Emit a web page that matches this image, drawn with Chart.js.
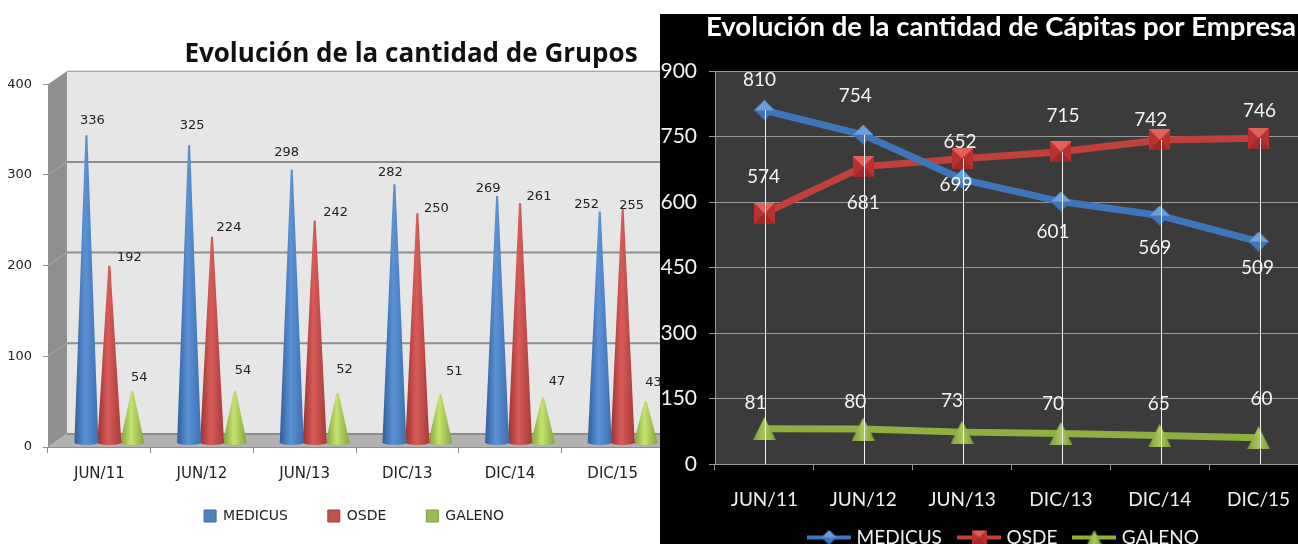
<!DOCTYPE html>
<html>
<head>
<meta charset="utf-8">
<script src="https://cdn.jsdelivr.net/npm/chart.js@4/dist/chart.umd.min.js"></script>
<style>
  html, body { margin: 0; width: 1298px; height: 544px; overflow: hidden; background: #fff; }
  #gruposBox { position: absolute; left: 0; top: 0; width: 712px; height: 544px; }
  #capitasBox { position: absolute; left: 660px; top: 14px; width: 686px; height: 530px; background: #000; }
</style>
</head>
<body>
<div id="gruposBox"><canvas id="gruposChart"></canvas></div>
<div id="capitasBox"><canvas id="capitasChart"></canvas></div>
<script>
const categories = ["JUN/11", "JUN/12", "JUN/13", "DIC/13", "DIC/14", "DIC/15"];

// left chart: grupos
const gruposMedicus = [336, 325, 298, 282, 269, 252];
const gruposOsde = [192, 224, 242, 250, 261, 255];
const gruposGaleno = [54, 54, 52, 51, 47, 43];
const gruposTicks = [0, 100, 200, 300, 400];

// right chart: capitas
const capitasMedicus = [810, 754, 652, 601, 569, 509];
const capitasOsde = [574, 681, 699, 715, 742, 746];
const capitasGaleno = [81, 80, 73, 70, 65, 60];
const capitasTicks = [0, 150, 300, 450, 600, 750, 900];

// hand placed data labels, [dx, dy] from the top of each mark
const gruposNudges = [
  [[6, -15], [3, -20], [-5, -17], [-4, -12], [-9, -7], [-13, -7]],
  [[20, -8], [17, -9], [21, -8], [19, -5], [19, -7], [9, -3]],
  [[7, -13], [8, -20], [7, -23], [14, -22], [14, -16], [8, -18]],
];
const capitasNudges = [
  [[-5, -30], [-8, -39], [-2, -37], [-8, 30], [-5, 32], [-1, 26]],
  [[-1, -36], [0, 36], [-6, 26], [2, -36], [-9, -20], [1, -27]],
  [[-9, -26], [-8, -27], [-10, -31], [-8, -30], [-1, -32], [3, -39]],
];

const coneColors = [
  ["#2f5f9a", "#5c92d6", "#3c6fae"],
  ["#9c3230", "#d85c58", "#a83a38"],
  ["#7f9e3a", "#c4e36e", "#86a63e"],
];

// the 3d box behind the cones
const depthX = 19;
const depthY = 13;

const boxPlugin = {
  id: "box3d",
  beforeDatasetsDraw(chart) {
    const ctx = chart.ctx;
    const a = chart.chartArea;
    const y = chart.scales.y;
    ctx.save();
    ctx.fillStyle = "#e6e6e6";
    ctx.fillRect(a.left + depthX, a.top - depthY, a.right - a.left, a.bottom - a.top);

    ctx.fillStyle = "#8f8f8f";
    ctx.beginPath();
    ctx.moveTo(a.left, a.top);
    ctx.lineTo(a.left + depthX, a.top - depthY);
    ctx.lineTo(a.left + depthX, a.bottom - depthY);
    ctx.lineTo(a.left, a.bottom);
    ctx.fill();

    ctx.fillStyle = "#b2b2b2";
    ctx.beginPath();
    ctx.moveTo(a.left, a.bottom);
    ctx.lineTo(a.left + depthX, a.bottom - depthY);
    ctx.lineTo(a.right + depthX, a.bottom - depthY);
    ctx.lineTo(a.right, a.bottom);
    ctx.fill();

    gruposTicks.forEach(function (t) {
      const py = y.getPixelForValue(t) - depthY;
      ctx.strokeStyle = "#8e8e8e";
      ctx.lineWidth = t === 400 ? 1 : 2;
      ctx.beginPath();
      ctx.moveTo(a.left + depthX, py);
      ctx.lineTo(a.right + depthX, py);
      ctx.stroke();
      if (t > 0 && t < 400) {
        ctx.strokeStyle = "#a8a8a8";
        ctx.lineWidth = 1;
        ctx.beginPath();
        ctx.moveTo(a.left, py + depthY);
        ctx.lineTo(a.left + depthX, py);
        ctx.stroke();
      }
    });
    ctx.restore();
  },
  // bars become cones, same position and height
  beforeDatasetDraw(chart, args) {
    const ctx = chart.ctx;
    const colors = coneColors[args.index];
    args.meta.data.forEach(function (bar) {
      const cx = bar.x + 10;
      const tip = bar.y - 7;
      const base = bar.base - 4;
      const half = 12;
      const grad = ctx.createLinearGradient(cx - half, 0, cx + half, 0);
      grad.addColorStop(0, colors[0]);
      grad.addColorStop(0.45, colors[1]);
      grad.addColorStop(1, colors[2]);
      ctx.save();
      ctx.fillStyle = grad;
      ctx.beginPath();
      ctx.moveTo(cx - 1, tip);
      ctx.lineTo(cx + 1, tip);
      ctx.lineTo(cx + half, base);
      ctx.ellipse(cx, base, half, 2.5, 0, 0, Math.PI);
      ctx.closePath();
      ctx.fill();
      ctx.restore();
    });
    return false;
  },
  afterDatasetsDraw(chart) {
    const ctx = chart.ctx;
    ctx.save();
    ctx.font = "13px 'DejaVu Sans'";
    ctx.fillStyle = "#222";
    ctx.textAlign = "center";
    ctx.textBaseline = "middle";
    chart.data.datasets.forEach(function (ds, i) {
      chart.getDatasetMeta(i).data.forEach(function (bar, j) {
        const n = gruposNudges[i][j];
        ctx.fillText(ds.data[j], bar.x + 10 + n[0], bar.y - 7 + n[1]);
      });
    });
    ctx.restore();
  },
  afterLayout(chart) {
    // title is centred over the visible wall, not over the canvas
    chart.titleBlock.left = 0;
    chart.titleBlock.right = 822;
    // legend sits where the reference has it, the layout only reserves 1px
    const lg = chart.legend;
    lg.left = 0;
    lg.right = chart.width - 4;
    lg.top = 469;
    lg.bottom = chart.height;
  },
};

new Chart(document.getElementById("gruposChart"), {
  type: "bar",
  data: {
    labels: categories,
    datasets: [
      { label: "MEDICUS", data: gruposMedicus, backgroundColor: "#4f81bd", borderColor: "#3a6aa3", borderWidth: 1 },
      { label: "OSDE", data: gruposOsde, backgroundColor: "#c0504d", borderColor: "#a33f3c", borderWidth: 1 },
      { label: "GALENO", data: gruposGaleno, backgroundColor: "#9bbb59", borderColor: "#7f9e3a", borderWidth: 1 },
    ],
  },
  options: {
    responsive: true,
    maintainAspectRatio: false,
    animation: false,
    categoryPercentage: 0.67,
    barPercentage: 1,
    layout: { padding: { top: 0, right: 48, bottom: 61, left: 0 } },
    plugins: {
      tooltip: { enabled: false },
      title: {
        display: true,
        text: "Evolución de la cantidad de Grupos",
        color: "#111",
        font: { family: "'Open Sans'", size: 26, weight: "bold" },
        padding: { top: 39, bottom: 14 },
      },
      legend: {
        position: "bottom",
        maxHeight: 1,
        labels: {
          color: "#222",
          font: { family: "'DejaVu Sans'", size: 14 },
          boxWidth: 12,
          boxHeight: 12,
          padding: 40,
        },
      },
    },
    scales: {
      x: {
        afterFit(scale) { scale.height = 35; },
        grid: { drawOnChartArea: false, tickLength: 6, tickColor: "#8c8c8c" },
        border: { color: "#8c8c8c" },
        ticks: { color: "#222", padding: 12, maxRotation: 0, font: { family: "'DejaVu Sans'", size: 15 } },
      },
      y: {
        min: 0,
        max: 400,
        afterFit(scale) { scale.width = 48; },
        afterBuildTicks(scale) { scale.ticks = gruposTicks.map((v) => ({ value: v })); },
        grid: { drawOnChartArea: false, tickLength: 5, tickColor: "#8c8c8c" },
        border: { color: "#8c8c8c" },
        ticks: { color: "#222", padding: 11, font: { family: "'DejaVu Sans'", size: 13 } },
      },
    },
  },
  plugins: [boxPlugin],
});

// marker images for the line chart, also used inside the legend
function makeMarker(kind, size) {
  const c = document.createElement("canvas");
  c.width = size;
  c.height = size;
  const g = c.getContext("2d");
  const m = size / 2;
  if (kind === "diamond") {
    g.fillStyle = "#3f76bb";
    g.beginPath();
    g.moveTo(m, 0);
    g.lineTo(size, m);
    g.lineTo(m, size);
    g.lineTo(0, m);
    g.fill();
    g.fillStyle = "#6ba0e0";
    g.beginPath();
    g.moveTo(m, 0);
    g.lineTo(size, m);
    g.lineTo(0, m);
    g.fill();
  } else if (kind === "square") {
    g.fillStyle = "#b8312e";
    g.fillRect(0, 0, size, size);
    g.fillStyle = "#e4605a";
    g.beginPath();
    g.moveTo(0, 0);
    g.lineTo(size, 0);
    g.lineTo(m, m);
    g.fill();
    g.fillStyle = "#a32825";
    g.beginPath();
    g.moveTo(0, size);
    g.lineTo(size, size);
    g.lineTo(m, m);
    g.fill();
  } else {
    const grad = g.createLinearGradient(0, 0, size, 0);
    grad.addColorStop(0, "#7d9c3a");
    grad.addColorStop(0.5, "#a9c95c");
    grad.addColorStop(1, "#7d9c3a");
    g.fillStyle = grad;
    g.beginPath();
    g.moveTo(m, 0);
    g.lineTo(size, size);
    g.lineTo(0, size);
    g.fill();
  }
  return c;
}

function legendImage(kind, color) {
  const c = document.createElement("canvas");
  c.width = 44;
  c.height = 20;
  const g = c.getContext("2d");
  g.strokeStyle = color;
  g.lineWidth = 4;
  g.beginPath();
  g.moveTo(0, 10);
  g.lineTo(44, 10);
  g.stroke();
  g.drawImage(makeMarker(kind, 15), 14.5, 2.5);
  return c;
}

const seriesKinds = ["diamond", "square", "triangle"];
const seriesColors = ["#3f76bb", "#c0403c", "#8fb040"];

const linePlugin = {
  id: "lineExtras",
  afterDatasetsDraw(chart) {
    // white drop lines from the highest point of each category
    const ctx = chart.ctx;
    const bottom = chart.chartArea.bottom;
    ctx.save();
    ctx.strokeStyle = "#f2f2f2";
    ctx.lineWidth = 1;
    categories.forEach(function (cat, j) {
      const pts = chart.data.datasets.map((d, i) => chart.getDatasetMeta(i).data[j]);
      const top = Math.min.apply(null, pts.map((p) => p.y));
      const x = Math.round(pts[0].x) + 1.5;
      ctx.beginPath();
      ctx.moveTo(x, top);
      ctx.lineTo(x, bottom);
      ctx.stroke();
    });
    ctx.font = "19px Lato";
    ctx.fillStyle = "#f4f4f4";
    ctx.textAlign = "center";
    ctx.textBaseline = "middle";
    chart.data.datasets.forEach(function (ds, i) {
      chart.getDatasetMeta(i).data.forEach(function (pt, j) {
        const n = capitasNudges[i][j];
        ctx.fillText(ds.data[j], pt.x + n[0], pt.y + n[1]);
      });
    });
    ctx.restore();
  },
  beforeDraw(chart) {
    const a = chart.chartArea;
    chart.ctx.save();
    chart.ctx.fillStyle = "#3b3b3b";
    chart.ctx.fillRect(a.left, a.top, a.right - a.left, a.bottom - a.top);
    chart.ctx.restore();
  },
  afterLayout(chart) {
    chart.titleBlock.left = 0;
    chart.titleBlock.right = 682;
    chart.titleBlock.top -= 3;
    const lg = chart.legend;
    lg.left = 0;
    lg.right = chart.width + 4;
    lg.top = 495;
    lg.bottom = chart.height;
  },
};

new Chart(document.getElementById("capitasChart"), {
  type: "line",
  data: {
    labels: categories,
    datasets: [
      { label: "MEDICUS", data: capitasMedicus, pointStyle: makeMarker("diamond", 20) },
      { label: "OSDE", data: capitasOsde, pointStyle: makeMarker("square", 21) },
      { label: "GALENO", data: capitasGaleno, pointStyle: makeMarker("triangle", 23) },
    ].map(function (ds, i) {
      ds.borderColor = seriesColors[i];
      ds.backgroundColor = seriesColors[i];
      ds.borderWidth = 7;
      ds.tension = 0;
      return ds;
    }),
  },
  options: {
    responsive: true,
    maintainAspectRatio: false,
    animation: false,
    layout: { padding: { top: 0, right: 38, bottom: 29, left: 0 } },
    plugins: {
      tooltip: { enabled: false },
      title: {
        display: true,
        text: "Evolución de la cantidad de Cápitas por Empresa",
        color: "#fff",
        font: { family: "Lato", size: 27.5, weight: "bold" },
        padding: { top: 0, bottom: 24 },
      },
      legend: {
        position: "bottom",
        maxHeight: 1,
        labels: {
          color: "#f0f0f0",
          font: { family: "Lato", size: 19 },
          usePointStyle: true,
          pointStyleWidth: 36,
          padding: 19,
          generateLabels(chart) {
            return chart.data.datasets.map(function (ds, i) {
              return {
                text: ds.label,
                fontColor: "#f0f0f0",
                pointStyle: legendImage(seriesKinds[i], seriesColors[i]),
                datasetIndex: i,
              };
            });
          },
        },
      },
    },
    scales: {
      x: {
        offset: true,
        afterFit(scale) { scale.height = 50; },
        grid: { drawOnChartArea: false, offset: true, tickLength: 6, tickColor: "#9a9a9a" },
        border: { color: "#9a9a9a" },
        ticks: { color: "#f0f0f0", padding: 18, maxRotation: 0, font: { family: "Lato", size: 19 } },
      },
      y: {
        min: 0,
        max: 900,
        afterFit(scale) { scale.width = 55; },
        afterBuildTicks(scale) { scale.ticks = capitasTicks.map((v) => ({ value: v })); },
        grid: { color: "#9a9a9a", tickLength: 6 },
        border: { color: "#9a9a9a" },
        ticks: { color: "#f4f4f4", padding: 12, font: { family: "Lato", size: 21 } },
      },
    },
  },
  plugins: [linePlugin],
});
</script>
</body>
</html>
